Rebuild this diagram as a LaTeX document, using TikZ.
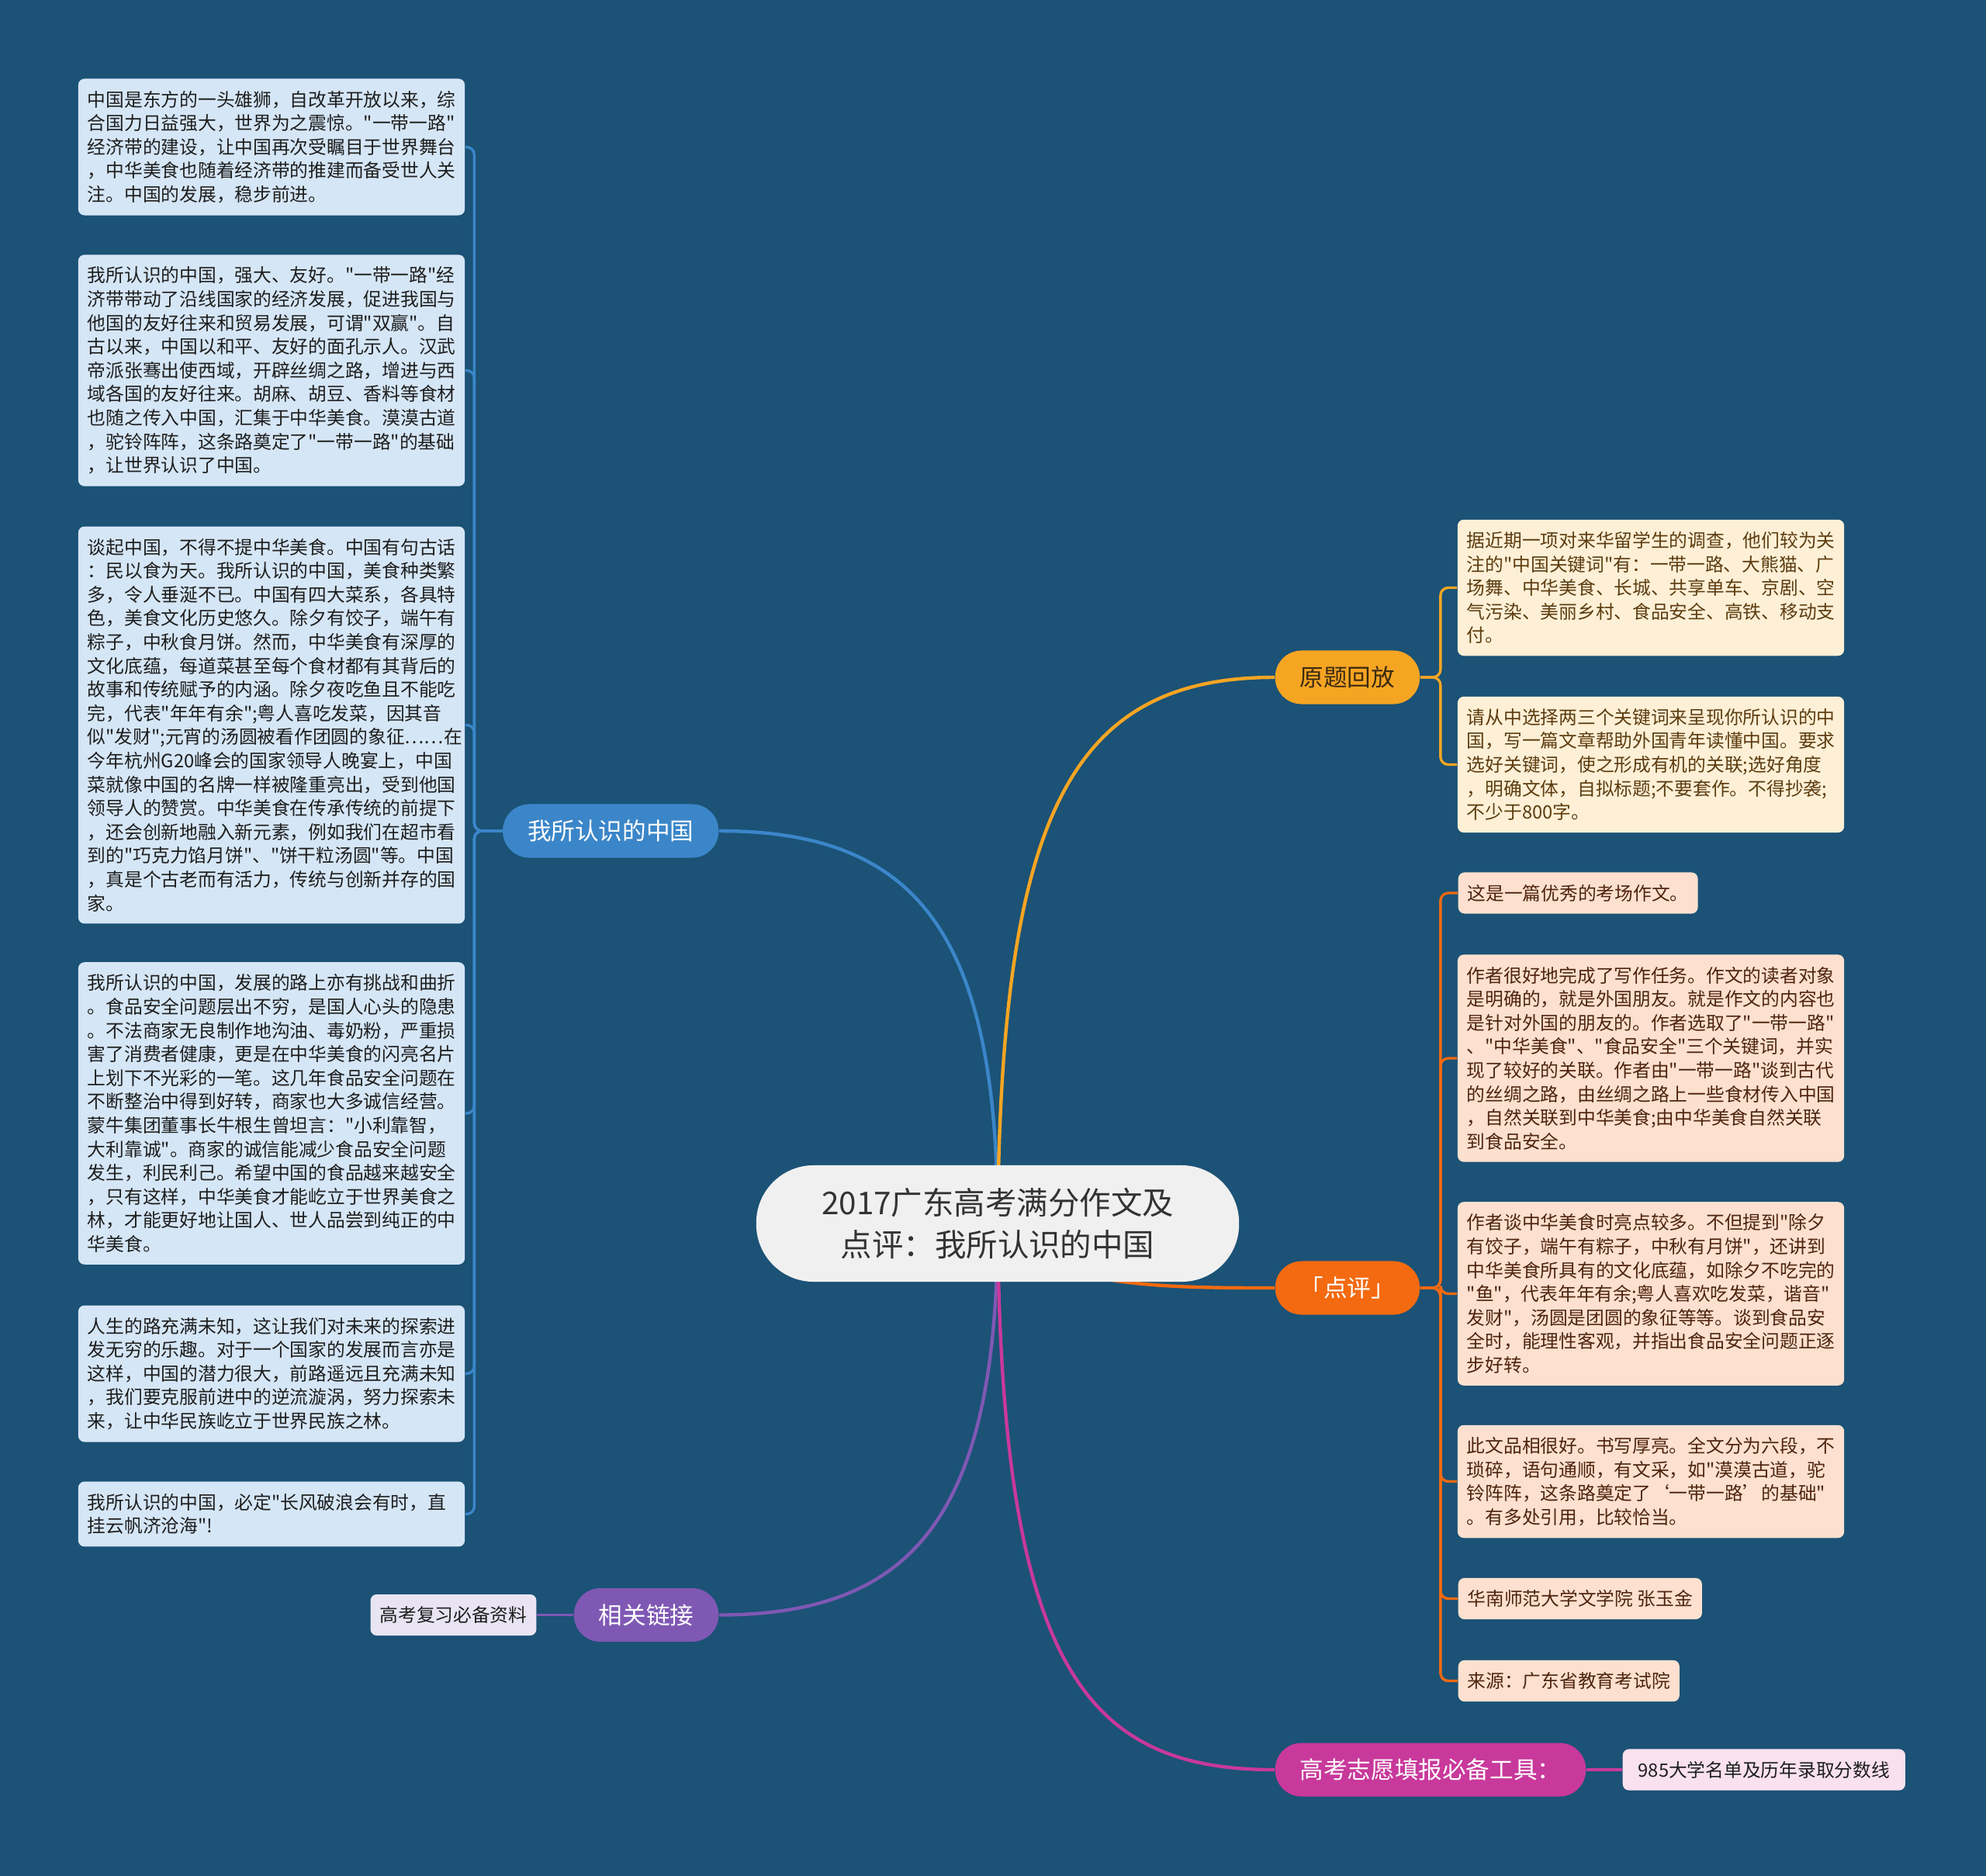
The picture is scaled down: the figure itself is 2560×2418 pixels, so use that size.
\documentclass[tikz,border=0pt]{standalone}
\usepackage{fontspec}
\newfontfamily\cjk{Noto Sans CJK SC}
\usetikzlibrary{positioning}
\definecolor{bgc}{HTML}{1B5276}
\definecolor{hubF}{HTML}{F0F0F0}
\definecolor{hubT}{HTML}{333333}
\definecolor{blueN}{HTML}{3B86C9}
\definecolor{blueL}{HTML}{D5E6F6}
\definecolor{blueT}{HTML}{1E1E1E}
\definecolor{goldN}{HTML}{F6A523}
\definecolor{goldL}{HTML}{FEF0D6}
\definecolor{goldT}{HTML}{5C3C10}
\definecolor{goldH}{HTML}{3A2A10}
\definecolor{orN}{HTML}{F36A10}
\definecolor{orL}{HTML}{FDE0CF}
\definecolor{orT}{HTML}{4E2410}
\definecolor{magN}{HTML}{C8399B}
\definecolor{magL}{HTML}{F9E1EF}
\definecolor{purN}{HTML}{7F58B4}
\definecolor{purL}{HTML}{E8E4F3}
\pgfdeclarelayer{bgl}
\pgfdeclarelayer{wires}
\pgfsetlayers{bgl,wires,main}
\begin{document}
\begin{tikzpicture}
[x=0.01cm, y=-0.01cm]
\tikzstyle{leaf}=[rounded corners=0.08cm, inner xsep=0.12cm, inner ysep=0.155cm, font=\cjk\fontsize{6.75pt}{8.7pt}\selectfont]
\tikzstyle{para}=[leaf, text width=4.74cm, align=left]
\tikzstyle{topic}=[rounded corners=0.34cm, minimum height=0.69cm, inner xsep=0.32cm, font=\cjk\fontsize{8.7pt}{10pt}\selectfont]
\tikzstyle{hub}=[fill=hubF, text=hubT, rounded corners=0.74cm, minimum width=6.22cm, minimum height=1.5cm, align=center, font=\cjk\fontsize{11.5pt}{15.6pt}\selectfont]
\tikzstyle{trunk}=[line width=1.25pt]
\tikzstyle{wire}=[line width=0.95pt, rounded corners=0.1cm]

\begin{pgfonlayer}{bgl}
\fill[bgc] (0,0) rectangle (2560,2418);
\end{pgfonlayer}

\node[hub] (hub) at (1286,1577) {2017广东高考满分作文及\\点评：我所认识的中国};

\node[topic, fill=blueN, text=white, anchor=east] (wo) at (927,1071) {我所认识的中国};
\node[topic, fill=goldN, text=goldH, anchor=west] (yt) at (1643,873) {原题回放};
\node[topic, fill=orN, text=white, anchor=west] (dp) at (1643,1660) {「点评」};
\node[topic, fill=magN, text=white, anchor=west] (gk) at (1643,2281) {高考志愿填报必备工具：};
\node[topic, fill=purN, text=white, anchor=east] (xg) at (927,2081.5) {相关链接};

\node[leaf, fill=purL, text=blueT] (fx) [left=0.47cm of xg] {高考复习必备资料};
\node[leaf, fill=magL, text=blueT, minimum width=3.64cm] (zy) [right=0.46cm of gk] {985大学名单及历年录取分数线};

\node[para, fill=blueL, text=blueT] (w1) at (350,189.5) {中国是东方的一头雄狮，自改革开放以来，综\\
合国力日益强大，世界为之震惊。"一带一路"\\
经济带的建设，让中国再次受瞩目于世界舞台\\
，中华美食也随着经济带的推建而备受世人关\\
注。中国的发展，稳步前进。};
\node[para, fill=blueL, text=blueT] (w2) at (350,477.5) {我所认识的中国，强大、友好。"一带一路"经\\
济带带动了沿线国家的经济发展，促进我国与\\
他国的友好往来和贸易发展，可谓"双赢"。自\\
古以来，中国以和平、友好的面孔示人。汉武\\
帝派张骞出使西域，开辟丝绸之路，增进与西\\
域各国的友好往来。胡麻、胡豆、香料等食材\\
也随之传入中国，汇集于中华美食。漠漠古道\\
，驼铃阵阵，这条路奠定了"一带一路"的基础\\
，让世界认识了中国。};
\node[para, fill=blueL, text=blueT] (w3) at (350,934.5) {谈起中国，不得不提中华美食。中国有句古话\\
：民以食为天。我所认识的中国，美食种类繁\\
多，令人垂涎不已。中国有四大菜系，各具特\\
色，美食文化历史悠久。除夕有饺子，端午有\\
粽子，中秋食月饼。然而，中华美食有深厚的\\
文化底蕴，每道菜甚至每个食材都有其背后的\\
故事和传统赋予的内涵。除夕夜吃鱼且不能吃\\
完，代表"年年有余";粤人喜吃发菜，因其音\\
似"发财";元宵的汤圆被看作团圆的象征……在\\
今年杭州G20峰会的国家领导人晚宴上，中国\\
菜就像中国的名牌一样被隆重亮出，受到他国\\
领导人的赞赏。中华美食在传承传统的前提下\\
，还会创新地融入新元素，例如我们在超市看\\
到的"巧克力馅月饼"、"饼干粒汤圆"等。中国\\
，真是个古老而有活力，传统与创新并存的国\\
家。};
\node[para, fill=blueL, text=blueT] (w4) at (350,1435) {我所认识的中国，发展的路上亦有挑战和曲折\\
。食品安全问题层出不穷，是国人心头的隐患\\
。不法商家无良制作地沟油、毒奶粉，严重损\\
害了消费者健康，更是在中华美食的闪亮名片\\
上划下不光彩的一笔。这几年食品安全问题在\\
不断整治中得到好转，商家也大多诚信经营。\\
蒙牛集团董事长牛根生曾坦言："小利靠智，\\
大利靠诚"。商家的诚信能减少食品安全问题\\
发生，利民利己。希望中国的食品越来越安全\\
，只有这样，中华美食才能屹立于世界美食之\\
林，才能更好地让国人、世人品尝到纯正的中\\
华美食。};
\node[para, fill=blueL, text=blueT] (w5) at (350,1770.5) {人生的路充满未知，这让我们对未来的探索进\\
发无穷的乐趣。对于一个国家的发展而言亦是\\
这样，中国的潜力很大，前路遥远且充满未知\\
，我们要克服前进中的逆流漩涡，努力探索未\\
来，让中华民族屹立于世界民族之林。};
\node[para, fill=blueL, text=blueT] (w6) at (350,1951.5) {我所认识的中国，必定"长风破浪会有时，直\\
挂云帆济沧海"!};

\node[para, fill=goldL, text=goldT] (y1) at (2128,757.5) {据近期一项对来华留学生的调查，他们较为关\\
注的"中国关键词"有：一带一路、大熊猫、广\\
场舞、中华美食、长城、共享单车、京剧、空\\
气污染、美丽乡村、食品安全、高铁、移动支\\
付。};
\node[para, fill=goldL, text=goldT] (y2) at (2128,985.5) {请从中选择两三个关键词来呈现你所认识的中\\
国，写一篇文章帮助外国青年读懂中国。要求\\
选好关键词，使之形成有机的关联;选好角度\\
，明确文体，自拟标题;不要套作。不得抄袭;\\
不少于800字。};

\node[leaf, fill=orL, text=orT, anchor=west] (d1) at (1879,1151) {这是一篇优秀的考场作文。};
\node[para, fill=orL, text=orT] (d2) at (2128,1364) {作者很好地完成了写作任务。作文的读者对象\\
是明确的，就是外国朋友。就是作文的内容也\\
是针对外国的朋友的。作者选取了"一带一路"\\
、"中华美食"、"食品安全"三个关键词，并实\\
现了较好的关联。作者由"一带一路"谈到古代\\
的丝绸之路，由丝绸之路上一些食材传入中国\\
，自然关联到中华美食;由中华美食自然关联\\
到食品安全。};
\node[para, fill=orL, text=orT] (d3) at (2128,1667.5) {作者谈中华美食时亮点较多。不但提到"除夕\\
有饺子，端午有粽子，中秋有月饼"，还讲到\\
中华美食所具有的文化底蕴，如除夕不吃完的\\
"鱼"，代表年年有余;粤人喜欢吃发菜，谐音"\\
发财"，汤圆是团圆的象征等等。谈到食品安\\
全时，能理性客观，并指出食品安全问题正逐\\
步好转。};
\node[para, fill=orL, text=orT] (d4) at (2128,1909.5) {此文品相很好。书写厚亮。全文分为六段，不\\
琐碎，语句通顺，有文采，如"漠漠古道，驼\\
铃阵阵，这条路奠定了‘一带一路’的基础"\\
。有多处引用，比较恰当。};
\node[leaf, fill=orL, text=orT, anchor=west] (d5) at (1879,2060.5) {华南师范大学文学院 张玉金};
\node[leaf, fill=orL, text=orT, anchor=west] (d6) at (1879,2166.5) {来源：广东省教育考试院};

\begin{pgfonlayer}{wires}
\draw[trunk, blueN] (hub.center) .. controls (1286,1200) and (1180,1071) .. (wo.east);
\draw[trunk, goldN] (hub.center) .. controls (1290,1050) and (1380,873) .. (yt.west);
\draw[trunk, orN] (hub.center) .. controls (1340,1660) and (1500,1660) .. (dp.west);
\draw[trunk, purN] (hub.center) .. controls (1286,1950) and (1180,2081.5) .. (xg.east);
\draw[trunk, magN] (hub.center) .. controls (1290,2150) and (1400,2281) .. (gk.west);

\draw[wire, blueN] (wo.west) -- ++(-36,0) |- (w1.east);
\draw[wire, blueN] (wo.west) -- ++(-36,0) |- (w2.east);
\draw[wire, blueN] (wo.west) -- ++(-36,0) |- (w3.east);
\draw[wire, blueN] (wo.west) -- ++(-36,0) |- (w4.east);
\draw[wire, blueN] (wo.west) -- ++(-36,0) |- (w5.east);
\draw[wire, blueN] (wo.west) -- ++(-36,0) |- (w6.east);

\draw[wire, goldN] (yt.east) -- ++(26,0) |- (y1.west);
\draw[wire, goldN] (yt.east) -- ++(26,0) |- (y2.west);

\draw[wire, orN] (dp.east) -- ++(26,0) |- (d1.west);
\draw[wire, orN] (dp.east) -- ++(26,0) |- (d2.west);
\draw[wire, orN] (dp.east) -- ++(26,0) |- (d3.west);
\draw[wire, orN] (dp.east) -- ++(26,0) |- (d4.west);
\draw[wire, orN] (dp.east) -- ++(26,0) |- (d5.west);
\draw[wire, orN] (dp.east) -- ++(26,0) |- (d6.west);

\draw[wire, purN] (xg.west) -- (fx.east);
\draw[wire, magN] (gk.east) -- (zy.west);
\end{pgfonlayer}
\end{tikzpicture}
\end{document}
